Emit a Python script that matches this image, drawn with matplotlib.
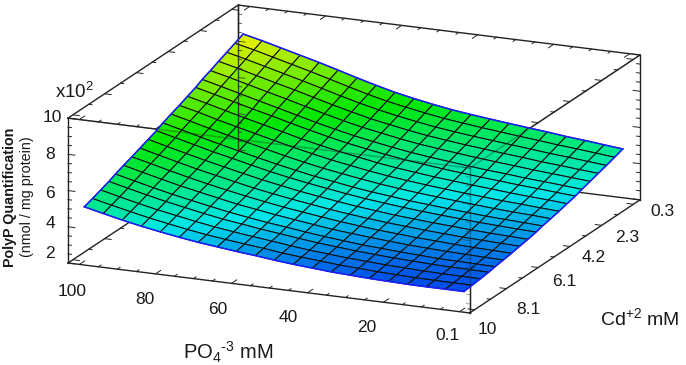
import numpy as np
import matplotlib
matplotlib.use('Agg')
import matplotlib.pyplot as plt
from matplotlib.colors import LinearSegmentedColormap, Normalize
from mpl_toolkits.mplot3d import proj3d

plt.rcParams['font.family'] = ['Liberation Sans', 'DejaVu Sans']
plt.rcParams['mathtext.fontset'] = 'custom'
plt.rcParams['mathtext.rm'] = 'Liberation Sans'
plt.rcParams['mathtext.default'] = 'regular'

W, H = 686, 365

# mesh positions
po4 = [100, 95, 90, 85, 80, 75, 70, 65, 60, 55, 50, 45, 40, 35, 30, 25, 20, 15, 10, 5, 0.1]
cd = [10, 9.5, 9.0, 8.5, 8.1, 7.6, 7.1, 6.6, 6.1, 5.6, 5.2, 4.7, 4.2, 3.7, 3.2, 2.8, 2.3, 1.8, 1.3, 0.8, 0.3]

# PolyP (x10^2). One row per po4 value, one column per cd value
polyp = [
    [5.00, 5.16, 5.33, 5.50, 5.67, 5.85, 6.02, 6.20, 6.38, 6.56, 6.75, 6.94, 7.12, 7.32, 7.51, 7.71, 7.90, 8.11, 8.31, 8.51, 8.72],
    [4.76, 4.92, 5.08, 5.25, 5.42, 5.59, 5.77, 5.94, 6.12, 6.30, 6.49, 6.68, 6.87, 7.06, 7.25, 7.45, 7.65, 7.86, 8.06, 8.27, 8.48],
    [4.53, 4.69, 4.84, 5.01, 5.17, 5.34, 5.51, 5.68, 5.86, 6.04, 6.22, 6.41, 6.59, 6.79, 6.98, 7.18, 7.38, 7.58, 7.79, 8.00, 8.21],
    [4.32, 4.47, 4.62, 4.78, 4.94, 5.10, 5.27, 5.43, 5.61, 5.78, 5.96, 6.15, 6.33, 6.52, 6.71, 6.91, 7.11, 7.31, 7.52, 7.73, 7.94],
    [4.14, 4.28, 4.43, 4.58, 4.73, 4.89, 5.04, 5.21, 5.38, 5.55, 5.72, 5.90, 6.08, 6.27, 6.46, 6.65, 6.85, 7.05, 7.25, 7.46, 7.67],
    [3.97, 4.10, 4.24, 4.38, 4.53, 4.68, 4.83, 4.99, 5.15, 5.31, 5.48, 5.65, 5.83, 6.01, 6.19, 6.38, 6.57, 6.77, 6.97, 7.17, 7.38],
    [3.82, 3.94, 4.07, 4.20, 4.34, 4.48, 4.63, 4.77, 4.93, 5.08, 5.25, 5.41, 5.58, 5.75, 5.93, 6.11, 6.30, 6.49, 6.68, 6.88, 7.08],
    [3.70, 3.81, 3.93, 4.06, 4.18, 4.32, 4.45, 4.59, 4.74, 4.88, 5.04, 5.19, 5.36, 5.52, 5.69, 5.87, 6.04, 6.23, 6.41, 6.60, 6.80],
    [3.58, 3.69, 3.80, 3.91, 4.03, 4.16, 4.28, 4.42, 4.55, 4.70, 4.84, 4.99, 5.15, 5.31, 5.47, 5.64, 5.81, 5.98, 6.17, 6.35, 6.54],
    [3.48, 3.58, 3.68, 3.79, 3.91, 4.02, 4.14, 4.27, 4.40, 4.54, 4.68, 4.82, 4.97, 5.13, 5.28, 5.45, 5.62, 5.79, 5.96, 6.15, 6.33],
    [3.36, 3.45, 3.55, 3.66, 3.77, 3.88, 4.00, 4.12, 4.25, 4.38, 4.51, 4.66, 4.80, 4.95, 5.11, 5.27, 5.43, 5.60, 5.78, 5.96, 6.14],
    [3.26, 3.35, 3.44, 3.54, 3.65, 3.75, 3.87, 3.99, 4.11, 4.24, 4.37, 4.51, 4.65, 4.80, 4.95, 5.11, 5.27, 5.44, 5.61, 5.79, 5.97],
    [3.18, 3.27, 3.35, 3.45, 3.55, 3.65, 3.76, 3.88, 4.00, 4.13, 4.26, 4.39, 4.53, 4.68, 4.83, 4.98, 5.15, 5.31, 5.48, 5.66, 5.84],
    [3.10, 3.18, 3.27, 3.36, 3.45, 3.56, 3.66, 3.78, 3.89, 4.02, 4.14, 4.28, 4.42, 4.56, 4.71, 4.87, 5.03, 5.19, 5.36, 5.54, 5.72],
    [3.05, 3.13, 3.21, 3.29, 3.39, 3.48, 3.59, 3.70, 3.81, 3.93, 4.06, 4.19, 4.32, 4.47, 4.61, 4.76, 4.92, 5.09, 5.26, 5.43, 5.61],
    [3.00, 3.07, 3.15, 3.23, 3.32, 3.41, 3.51, 3.62, 3.73, 3.85, 3.97, 4.10, 4.23, 4.37, 4.51, 4.66, 4.82, 4.98, 5.15, 5.32, 5.50],
    [2.97, 3.04, 3.11, 3.19, 3.27, 3.36, 3.46, 3.56, 3.67, 3.78, 3.90, 4.02, 4.15, 4.29, 4.43, 4.58, 4.73, 4.89, 5.05, 5.22, 5.40],
    [2.94, 3.00, 3.07, 3.14, 3.22, 3.31, 3.40, 3.50, 3.60, 3.71, 3.82, 3.94, 4.07, 4.20, 4.34, 4.48, 4.63, 4.78, 4.94, 5.11, 5.28],
    [2.93, 2.99, 3.05, 3.12, 3.20, 3.28, 3.36, 3.46, 3.55, 3.66, 3.77, 3.88, 4.01, 4.13, 4.27, 4.41, 4.55, 4.70, 4.86, 5.02, 5.19],
    [2.93, 2.98, 3.04, 3.11, 3.18, 3.25, 3.33, 3.42, 3.51, 3.61, 3.72, 3.83, 3.94, 4.07, 4.19, 4.33, 4.47, 4.61, 4.76, 4.92, 5.08],
    [2.93, 2.98, 3.03, 3.09, 3.16, 3.23, 3.30, 3.39, 3.47, 3.57, 3.67, 3.77, 3.88, 4.00, 4.12, 4.25, 4.39, 4.53, 4.67, 4.82, 4.98],
]

po4_ticks = [100, 95, 90, 85, 80, 75, 70, 65, 60, 55, 50, 45, 40, 35, 30, 25, 20, 15, 10, 5, 0]
cd_ticks = [10, 9.03, 8.06, 7.09, 6.12, 5.15, 4.18, 3.21, 2.24, 1.27, 0.3]
z_ticks = [2, 2.5, 3, 3.5, 4, 4.5, 5, 5.5, 6, 6.5, 7, 7.5, 8, 8.5, 9, 9.5, 10]

po4_labels = ['100', '80', '60', '40', '20', '0.1']
cd_labels = ['10', '8.1', '6.1', '4.2', '2.3', '0.3']
z_labels = ['10', '8', '6', '4', '2']

# box limits are a bit wider than the mesh, as in the original
x_near, x_far = 103, -2.7
y_near, y_far = 10.3, -0.1
z_low, z_high = 2, 10

rainbow = LinearSegmentedColormap.from_list('idl', [
    (0.0, '#0048e8'), (0.22, '#00e8e8'), (0.58, '#00e600'), (1.0, '#f0f000')])

fig = plt.figure(figsize=(W / 100, H / 100), dpi=100)
side = 900
ax = fig.add_axes([0, 0, side / W, side / H], projection='3d', proj_type='ortho',
                  computed_zorder=False)
ax.view_init(elev=16.7, azim=-66.6)
ax.set_axis_off()

X, Y = np.meshgrid(po4, cd, indexing='ij')
Z = np.array(polyp)
ax.plot_surface(X, Y, Z, rstride=1, cstride=1, cmap=rainbow, norm=Normalize(2.9, 8.72),
                edgecolor='#101010', linewidth=0.75, shade=False, antialiased=True, zorder=2)

# blue rim of the surface
rim = dict(color='#1c1cff', lw=1.1, zorder=4)
ax.plot(X[:, 0], Y[:, 0], Z[:, 0], **rim)
ax.plot(X[:, -1], Y[:, -1], Z[:, -1], **rim)
ax.plot(X[0, :], Y[0, :], Z[0, :], **rim)
ax.plot(X[-1, :], Y[-1, :], Z[-1, :], **rim)


def edge(x, y, z, order=1, color='#222222', lw=1.0, alpha=1.0):
    ax.plot(x, y, z, color=color, lw=lw, alpha=alpha, zorder=order)


# box, everything behind the surface first
edge([x_near, x_far], [y_near, y_near], [z_low, z_low])
edge([x_far, x_far], [y_near, y_far], [z_low, z_low])
edge([x_near, x_near], [y_near, y_far], [z_low, z_low])
edge([x_near, x_far], [y_far, y_far], [z_low, z_low])
edge([x_near, x_far], [y_near, y_near], [z_high, z_high])
edge([x_far, x_far], [y_near, y_far], [z_high, z_high])
edge([x_near, x_near], [y_near, y_far], [z_high, z_high])
edge([x_near, x_far], [y_far, y_far], [z_high, z_high])
edge([x_near, x_near], [y_near, y_near], [z_low, z_high])
edge([x_far, x_far], [y_far, y_far], [z_low, z_high])
edge([x_far, x_far], [y_near, y_near], [z_low, z_high])
edge([x_near, x_near], [y_far, y_far], [z_low, z_high])

# these show through the surface
edge([x_near, x_far], [y_near, y_near], [z_high, z_high], order=3, alpha=0.35)
edge([x_far, x_far], [y_near, y_near], [z_low, z_high], order=3, alpha=0.45)
edge([x_far, x_far], [y_near, y_far], [z_high, z_high], order=3, alpha=0.35)
edge([x_near, x_near], [y_far, y_far], [z_low, z_high], order=3, alpha=0.8)

# ticks
for i, t in enumerate(po4_ticks):
    n = 0.32 if i % 4 == 0 else 0.16
    edge([t, t], [y_near, y_near - n], [z_low, z_low], lw=0.7)
    edge([t, t], [y_near, y_near - n], [z_high, z_high], lw=0.7)
    edge([t, t], [y_far, y_far + n], [z_high, z_high], lw=0.7)
for i, t in enumerate(cd_ticks):
    n = 1.7 if i % 2 == 0 else 0.85
    edge([x_far, x_far + n], [t, t], [z_low, z_low], lw=0.7)
    edge([x_far, x_far + n], [t, t], [z_high, z_high], lw=0.7)
    edge([x_near, x_near - n], [t, t], [z_low, z_low], lw=0.7)
    edge([x_near, x_near - n], [t, t], [z_high, z_high], lw=0.7)
for i, t in enumerate(z_ticks):
    n = 1.8 if i % 4 == 0 else 0.9
    edge([x_near, x_near - n], [y_near, y_near], [t, t], lw=0.7)
    edge([x_far, x_far + n], [y_far, y_far], [t, t], lw=0.7)
    edge([x_far, x_far + n], [y_near, y_near], [t, t], order=3, lw=0.6, alpha=0.45)
    edge([x_near, x_near - n], [y_far, y_far], [t, t], order=3, lw=0.6, alpha=0.8)

ax.set_xlim(x_near, x_far, view_margin=0)
ax.set_ylim(y_near, y_far, view_margin=0)
ax.set_zlim(z_low, z_high, view_margin=0)
aspect = (437, 428, 151)


def to_px(x, y, z):
    px, py, _ = proj3d.proj_transform(x, y, z, ax.get_proj())
    return ax.transData.transform((px, py))


# fit the box to the spot it has in the original
ax.set_box_aspect(aspect, zoom=1)
fig.canvas.draw()
a = to_px(x_near, y_near, z_low)
c = to_px(x_far, y_far, z_low)
ax.set_box_aspect(aspect, zoom=572 / (c[0] - a[0]))
fig.canvas.draw()
a = to_px(x_near, y_near, z_low)
pos = ax.get_position(original=True)
ax.set_position([pos.x0 + (68 - a[0]) / W, pos.y0 + (H - 263 - a[1]) / H, pos.width, pos.height])


def label(px, py, s, **kw):
    fig.text(px / W, 1 - py / H, s, ha='center', va='center', **kw)


tick_size = 12.5
for s, (px, py) in zip(po4_labels, [(72, 292), (145, 300), (218, 309), (288, 318), (367, 327), (448, 335)]):
    label(px, py, s, fontsize=tick_size, color='#1a1a1a')
for s, (px, py) in zip(cd_labels, [(487, 330), (528, 309), (564, 282), (594, 258), (627, 238), (662, 212)]):
    label(px, py, s, fontsize=tick_size, color='#1a1a1a')
for s, (px, py) in zip(z_labels, [(52, 118), (50, 155), (50, 193), (50, 223), (50, 253)]):
    label(px, py, s, fontsize=tick_size, color='#1a1a1a')

label(75, 92, 'x10$^{2}$', fontsize=13.5, color='#1a1a1a')
label(228, 352, 'PO$_{4}$$^{\u20103}$ mM', fontsize=14.5, color='#1a1a1a')
label(640, 318, 'Cd$^{+2}$ mM', fontsize=14, color='#1a1a1a')
label(10, 197, 'PolyP Quantification', fontsize=10.3, fontweight='bold', rotation=90, color='#1a1a1a')
label(27, 197, '(nmol / mg protein)', fontsize=10.3, rotation=90, color='#1a1a1a')

fig.savefig('out.png', dpi=100)
